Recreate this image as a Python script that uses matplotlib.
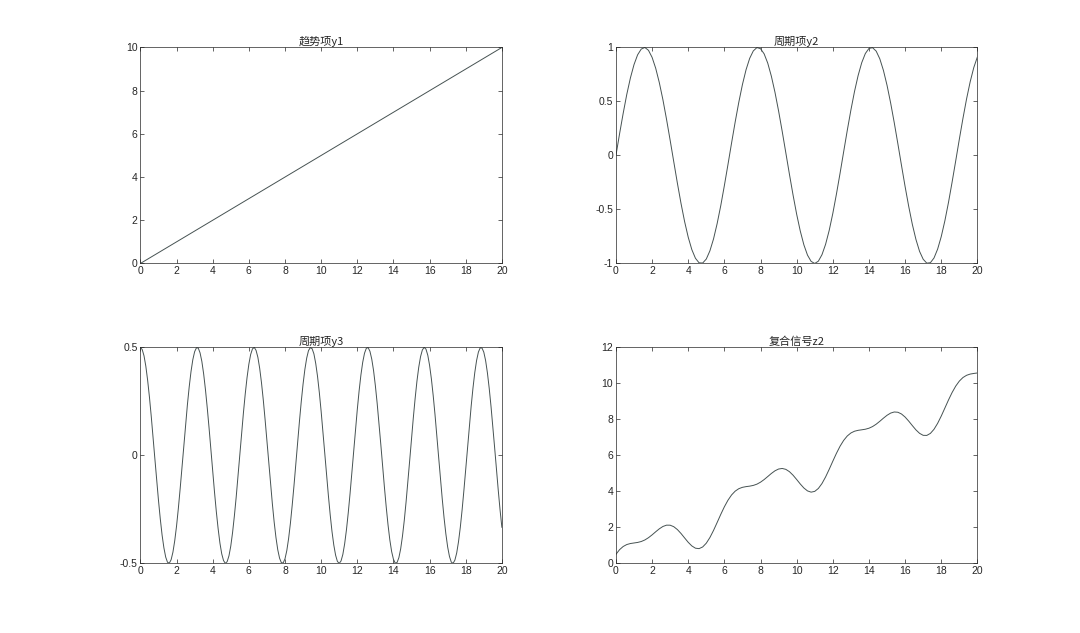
import numpy as np
import matplotlib
matplotlib.use("Agg")
import matplotlib.pyplot as plt

# ---- data ----
titles = ["趋势项y1", "周期项y2", "周期项y3", "复合信号z2"]

# sample grids
t = np.round(np.arange(101) * 0.2, 1)      # 0, 0.2, ..., 20
t3 = np.round(np.arange(201) * 0.1, 1)     # 0, 0.1, ..., 20

t1 = [0, 20]
y1 = [0, 10]

y2 = [0.000, 0.199, 0.389, 0.565, 0.717, 0.841, 0.932, 0.985, 1.000, 0.974,
      0.909, 0.808, 0.675, 0.516, 0.335, 0.141, -0.058, -0.256, -0.443, -0.612,
      -0.757, -0.872, -0.952, -0.994, -0.996, -0.959, -0.883, -0.773, -0.631, -0.465,
      -0.279, -0.083, 0.117, 0.312, 0.494, 0.657, 0.794, 0.899, 0.968, 0.999,
      0.989, 0.941, 0.855, 0.734, 0.585, 0.412, 0.223, 0.025, -0.174, -0.366,
      -0.544, -0.700, -0.828, -0.923, -0.981, -1.000, -0.979, -0.919, -0.823, -0.694,
      -0.537, -0.358, -0.166, 0.034, 0.232, 0.420, 0.592, 0.740, 0.859, 0.944,
      0.991, 0.998, 0.966, 0.895, 0.788, 0.650, 0.486, 0.303, 0.108, -0.092,
      -0.288, -0.472, -0.638, -0.778, -0.888, -0.961, -0.997, -0.993, -0.949, -0.867,
      -0.751, -0.605, -0.435, -0.247, -0.050, 0.150, 0.343, 0.523, 0.682, 0.814,
      0.913]

y3 = [0.500, 0.490, 0.461, 0.413, 0.348, 0.270, 0.181, 0.085, -0.015, -0.114,
      -0.208, -0.294, -0.369, -0.428, -0.471, -0.495, -0.499, -0.483, -0.448, -0.395,
      -0.327, -0.245, -0.154, -0.056, 0.044, 0.142, 0.234, 0.317, 0.388, 0.443,
      0.480, 0.498, 0.497, 0.475, 0.435, 0.377, 0.304, 0.219, 0.126, 0.027,
      -0.073, -0.170, -0.260, -0.339, -0.406, -0.456, -0.487, -0.500, -0.492, -0.465,
      -0.420, -0.357, -0.280, -0.193, -0.097, 0.002, 0.101, 0.197, 0.284, 0.360,
      0.422, 0.467, 0.493, 0.500, 0.486, 0.454, 0.403, 0.336, 0.256, 0.165,
      0.068, -0.031, -0.130, -0.223, -0.308, -0.380, -0.437, -0.476, -0.497, -0.498,
      -0.479, -0.441, -0.385, -0.314, -0.230, -0.138, -0.039, 0.060, 0.158, 0.249,
      0.330, 0.398, 0.450, 0.485, 0.499, 0.494, 0.470, 0.426, 0.366, 0.291,
      0.204, 0.109, 0.010, -0.089, -0.185, -0.274, -0.352, -0.415, -0.462, -0.491,
      -0.500, -0.489, -0.459, -0.410, -0.345, -0.266, -0.177, -0.080, 0.019, 0.118,
      0.212, 0.298, 0.372, 0.431, 0.473, 0.496, 0.499, 0.482, 0.446, 0.393,
      0.323, 0.241, 0.149, 0.052, -0.048, -0.146, -0.238, -0.321, -0.391, -0.445,
      -0.481, -0.499, -0.496, -0.474, -0.433, -0.374, -0.301, -0.215, -0.121, -0.023,
      0.077, 0.174, 0.263, 0.343, 0.408, 0.457, 0.488, 0.500, 0.492, 0.464,
      0.417, 0.354, 0.277, 0.189, 0.093, -0.007, -0.106, -0.201, -0.288, -0.363,
      -0.424, -0.468, -0.494, -0.500, -0.485, -0.452, -0.400, -0.333, -0.252, -0.161,
      -0.064, 0.036, 0.134, 0.227, 0.311, 0.383, 0.439, 0.478, 0.498, 0.497,
      0.478, 0.439, 0.382, 0.310, 0.226, 0.133, 0.035, -0.065, -0.162, -0.253,
      -0.333]

z2 = [0.500, 0.760, 0.937, 1.046, 1.102, 1.133, 1.163, 1.214, 1.300, 1.426,
      1.582, 1.755, 1.919, 2.050, 2.123, 2.121, 2.038, 1.879, 1.662, 1.414,
      1.170, 0.969, 0.843, 0.819, 0.912, 1.122, 1.436, 1.830, 2.270, 2.720,
      3.143, 3.510, 3.803, 4.014, 4.150, 4.225, 4.264, 4.291, 4.331, 4.401,
      4.511, 4.656, 4.824, 4.995, 5.143, 5.242, 5.273, 5.224, 5.095, 4.899,
      4.660, 4.410, 4.187, 4.026, 3.957, 4.000, 4.162, 4.435, 4.800, 5.226,
      5.676, 6.113, 6.507, 6.832, 7.078, 7.244, 7.342, 7.392, 7.421, 7.453,
      7.509, 7.602, 7.733, 7.894, 8.067, 8.227, 8.350, 8.411, 8.396, 8.300,
      8.129, 7.904, 7.655, 7.416, 7.225, 7.114, 7.109, 7.222, 7.451, 7.781,
      8.185, 8.629, 9.077, 9.492, 9.848, 10.127, 10.325, 10.449, 10.517, 10.552,
      10.579]

xticks = [0, 2, 4, 6, 8, 10, 12, 14, 16, 18, 20]
yticks = [[0, 2, 4, 6, 8, 10], [-1, -0.5, 0, 0.5, 1], [-0.5, 0, 0.5], [0, 2, 4, 6, 8, 10, 12]]
ytick_labels = [["0", "2", "4", "6", "8", "10"], ["-1", "-0.5", "0", "0.5", "1"],
                ["-0.5", "0", "0.5"], ["0", "2", "4", "6", "8", "10", "12"]]
ylims = [(0, 10), (-1, 1), (-0.5, 0.5), (0, 12)]

# ---- styling ----
plt.rcParams['font.family'] = ['Liberation Sans', 'DejaVu Sans']
line_color = '#465252'
axis_color = '#262626'

fig = plt.figure(figsize=(10.8, 6.33), dpi=100)
positions = [
    [0.1300, 0.5838, 0.3347, 0.3412],
    [0.5703, 0.5838, 0.3347, 0.3412],
    [0.1300, 0.1100, 0.3347, 0.3412],
    [0.5703, 0.1100, 0.3347, 0.3412],
]
series = [(t1, y1), (t, y2), (t3, y3), (t, z2)]

for i, (pos, (xs, ys)) in enumerate(zip(positions, series)):
    ax = fig.add_axes(pos)
    ax.plot(xs, ys, color=line_color, linewidth=0.7)
    ax.set_xlim(0, 20)
    ax.set_ylim(*ylims[i])
    ax.set_xticks(xticks)
    ax.set_xticklabels([str(v) for v in xticks])
    ax.set_yticks(yticks[i])
    ax.set_yticklabels(ytick_labels[i])
    ax.tick_params(direction='in', length=3, width=0.5, colors=axis_color,
                   labelsize=7.5, top=True, right=True, pad=2)
    for sp in ax.spines.values():
        sp.set_color(axis_color)
        sp.set_linewidth(0.5)
    ax.set_title(titles[i], fontsize=8, color='#262626', pad=2,
                 family=['Noto Sans CJK SC', 'DejaVu Sans'])

fig.savefig("out.png", dpi=100, facecolor='white')
